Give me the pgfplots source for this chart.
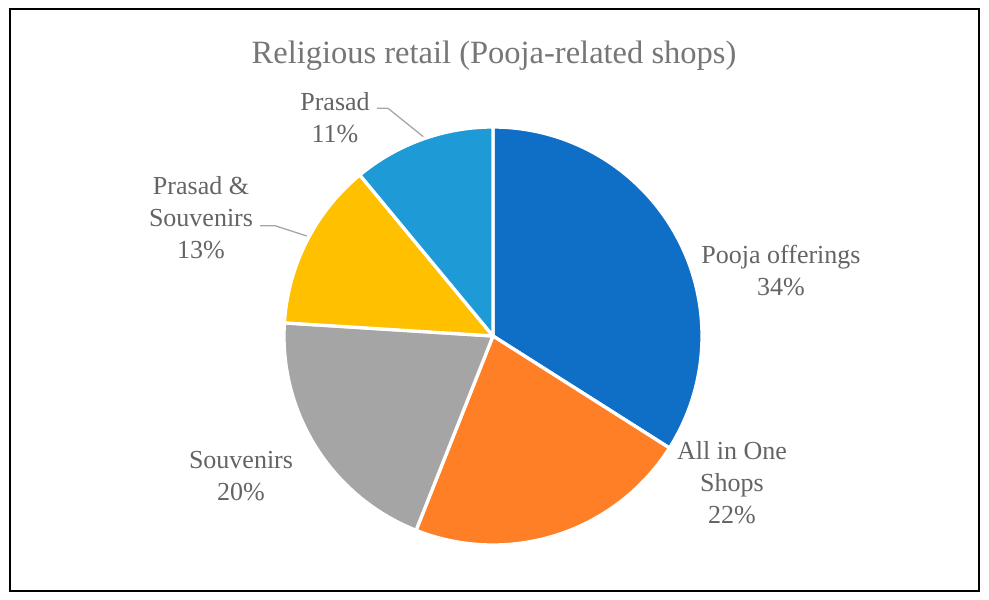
\documentclass[border=0pt]{standalone}
\usepackage{fontspec}
\setmainfont{Liberation Serif}
\usepackage{pgfplots}
\pgfplotsset{compat=1.18}
\definecolor{cBlue}{HTML}{0F6FC6}
\definecolor{cOrange}{HTML}{FF7F27}
\definecolor{cGray}{HTML}{A5A5A5}
\definecolor{cYellow}{HTML}{FFC000}
\definecolor{cLBlue}{HTML}{1E9BD7}
\definecolor{txt}{HTML}{646464}
\definecolor{ttl}{HTML}{767676}
\definecolor{lead}{HTML}{A6A6A6}
\newcommand\cx{493}
\newcommand\cy{264}
\newcommand\rr{209}
% #1 = cumulative share before the slice (%), #2 = slice share (%), #3 = colour
\newcommand{\slice}[3]{%
  \pgfmathsetmacro\aS{90-3.6*#1}%
  \pgfmathsetmacro\aE{90-3.6*(#1+#2)}%
  \addplot[fill=#3, draw=white, line width=3.3pt, line join=round, domain=\aE:\aS, samples=120]
    ({\cx+\rr*cos(x)},{\cy+\rr*sin(x)}) -- (axis cs:\cx,\cy) -- cycle;
}
\begin{document}
\begin{tikzpicture}
\begin{axis}[x=1pt, y=1pt, xmin=0, xmax=989, ymin=0, ymax=600,
  hide axis, clip=false, scale only axis]
  \path (axis cs:0,0) rectangle (axis cs:989,600);
  \draw[line width=2pt, black] (axis cs:10,9) rectangle (axis cs:979,591);
  % Pie: Pooja offerings 34, All in One Shops 22, Souvenirs 20, Prasad & Souvenirs 13, Prasad 11
  \slice{0}{34}{cBlue}
  \slice{34}{22}{cOrange}
  \slice{56}{20}{cGray}
  \slice{76}{13}{cYellow}
  \slice{89}{11}{cLBlue}
  % leader lines
  \draw[lead, line width=1.3pt] (axis cs:377,491.7) -- (axis cs:388,491.7) -- (axis cs:423.3,463.3);
  \draw[lead, line width=1.3pt] (axis cs:260,374.3) -- (axis cs:275,374.3) -- (axis cs:306.7,364);
  % labels
  \node[text=ttl, font=\fontsize{32.5}{36}\selectfont] at (axis cs:494,544) {Religious retail (Pooja-related shops)};
  \node[text=txt, align=center, font=\fontsize{26}{32}\selectfont] at (axis cs:781,329) {Pooja offerings\\34\%};
  \node[text=txt, align=center, font=\fontsize{26}{32}\selectfont] at (axis cs:732,117) {All in One\\Shops\\22\%};
  \node[text=txt, align=center, font=\fontsize{26}{32}\selectfont] at (axis cs:241,124) {Souvenirs\\20\%};
  \node[text=txt, align=center, font=\fontsize{26}{32}\selectfont] at (axis cs:201,382) {Prasad \&\\Souvenirs\\13\%};
  \node[text=txt, align=center, font=\fontsize{26}{32}\selectfont] at (axis cs:335,482) {Prasad\\11\%};
\end{axis}
\end{tikzpicture}
\end{document}
